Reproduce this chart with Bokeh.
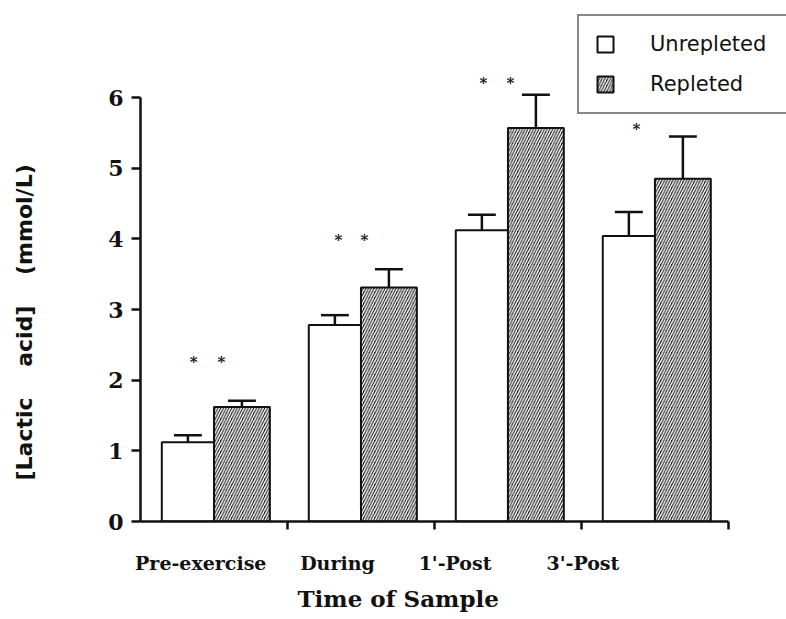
from bokeh.plotting import figure
from bokeh.models import (Range1d, FixedTicker, Legend, LegendItem, Title,
                          ColumnDataSource)
from bokeh.core.properties import value
from bokeh.embed import file_html
from bokeh.resources import INLINE

# ---------------- data ----------------
categories = ["Pre-exercise", "During", "1'-Post", "3'-Post"]
unrepleted = [1.12, 2.78, 4.12, 4.04]
unrepleted_err = [0.10, 0.14, 0.22, 0.34]
repleted = [1.62, 3.31, 5.57, 4.85]
repleted_err = [0.09, 0.26, 0.47, 0.60]
y_ticks = [0, 1, 2, 3, 4, 5, 6]
sig_marks = ["*", "*", "*", "*", "*", "*", "*"]
sig_x = [0.361, 0.551, 1.347, 1.524, 2.333, 2.517, 3.374]
sig_y = [2.26, 2.26, 3.98, 3.98, 6.20, 6.20, 5.56]
y_title = "[Lactic\u00a0\u00a0\u00a0\u00a0acid]\u00a0\u00a0\u00a0\u00a0(mmol/L)"
x_title = "Time of Sample"

# ---------------- layout / style ----------------
W_UN = 0.355
W_RE = 0.38
CAP = 0.095
label_x = [0.41, 1.34, 2.14, 3.01]
SERIF = "DejaVu Serif"
SANS = "DejaVu Sans"
INK = "#111111"
DARK = "#1c1c1c"

centers = [i + 0.5 for i in range(len(categories))]

un_src = ColumnDataSource(dict(
    left=[c - W_UN for c in centers], right=[c for c in centers],
    top=unrepleted, bottom=[0] * len(centers)))
re_src = ColumnDataSource(dict(
    left=[c for c in centers], right=[c + W_RE for c in centers],
    top=repleted, bottom=[0] * len(centers)))

p = figure(width=786, height=619, output_backend="svg", toolbar_location=None,
           x_range=Range1d(0, 4.395), y_range=Range1d(0, 7.373),
           min_border_left=140, min_border_right=0, min_border_top=0,
           min_border_bottom=98)
p.outline_line_color = None
p.xgrid.visible = False
p.ygrid.visible = False
p.background_fill_color = "white"
p.border_fill_color = "white"

r_un = p.quad(left="left", right="right", top="top", bottom="bottom",
              source=un_src, fill_color="white", line_color=INK, line_width=2)
r_re = p.quad(left="left", right="right", top="top", bottom="bottom",
              source=re_src, fill_color=DARK, line_color=INK, line_width=2,
              hatch_pattern="/", hatch_color="white", hatch_scale=5.5,
              hatch_weight=1.4)

# error bars (upper only)
ux = [c - W_UN / 2 for c in centers]
rx = [c + W_RE / 2 for c in centers]
u_top = [v + e for v, e in zip(unrepleted, unrepleted_err)]
r_top = [v + e for v, e in zip(repleted, repleted_err)]
p.segment(x0=ux, y0=unrepleted, x1=ux, y1=u_top, line_color=INK, line_width=2.5)
p.segment(x0=[x - CAP for x in ux], y0=u_top, x1=[x + CAP for x in ux], y1=u_top,
          line_color=INK, line_width=2.5)
p.segment(x0=rx, y0=repleted, x1=rx, y1=r_top, line_color=INK, line_width=2.5)
p.segment(x0=[x - CAP for x in rx], y0=r_top, x1=[x + CAP for x in rx], y1=r_top,
          line_color=INK, line_width=2.5)

# significance marks
p.text(x=sig_x, y=sig_y, text=sig_marks, text_font=value(SERIF),
       text_font_size="15px", text_font_style="bold", text_align="center",
       text_baseline="middle", text_color=INK)

# y axis
ya = p.yaxis[0]
ya.ticker = FixedTicker(ticks=y_ticks)
ya.bounds = (0, 6)
ya.axis_line_width = 2.5
ya.axis_line_color = INK
ya.major_tick_line_width = 2.5
ya.major_tick_line_color = INK
ya.major_tick_out = 9
ya.major_tick_in = 0
ya.minor_tick_line_color = None
ya.major_label_text_font = SERIF
ya.major_label_text_font_style = "bold"
ya.major_label_text_font_size = "22px"
ya.major_label_text_color = INK
ya.major_label_standoff = 8
# spacer label to push the y title outward
ya.axis_label = "\u00a0"
ya.axis_label_text_font_size = "10px"
ya.axis_label_standoff = 55

# x axis
xa = p.xaxis[0]
xa.ticker = FixedTicker(ticks=label_x, minor_ticks=[1, 2, 3, 4])
xa.major_label_overrides = {x: c for x, c in zip(label_x, categories)}
xa.bounds = (0, 4)
xa.axis_line_width = 2.5
xa.axis_line_color = INK
xa.major_tick_line_color = None
xa.major_tick_out = 0
xa.major_tick_in = 0
xa.minor_tick_line_width = 2.5
xa.minor_tick_line_color = INK
xa.minor_tick_out = 8
xa.minor_tick_in = 0
xa.major_label_text_font = SERIF
xa.major_label_text_font_style = "bold"
xa.major_label_text_font_size = "19px"
xa.major_label_text_color = INK
xa.major_label_standoff = 22

# titles
p.add_layout(Title(text=x_title, align="left", offset=157,
                   text_font=SERIF, text_font_style="bold",
                   text_font_size="23px", text_color=INK, standoff=12), "below")
p.add_layout(Title(text=y_title, align="left", offset=41,
                   text_font=SANS, text_font_style="bold",
                   text_font_size="22px", text_color=INK, standoff=0), "left")

# legend
legend = Legend(items=[LegendItem(label="Unrepleted", renderers=[r_un]),
                       LegendItem(label="Repleted", renderers=[r_re])],
                location=(437, 407), orientation="vertical")
legend.border_line_color = INK
legend.border_line_width = 2
legend.background_fill_color = "white"
legend.background_fill_alpha = 1
legend.padding = 16
legend.spacing = 16
legend.margin = 0
legend.glyph_width = 20
legend.glyph_height = 20
legend.label_standoff = 35
legend.label_width = 150
legend.label_height = 20
legend.label_text_font = SANS
legend.label_text_font_size = "21px"
legend.label_text_color = INK
p.add_layout(legend)

open("out.html", "w").write(file_html(p, INLINE))
